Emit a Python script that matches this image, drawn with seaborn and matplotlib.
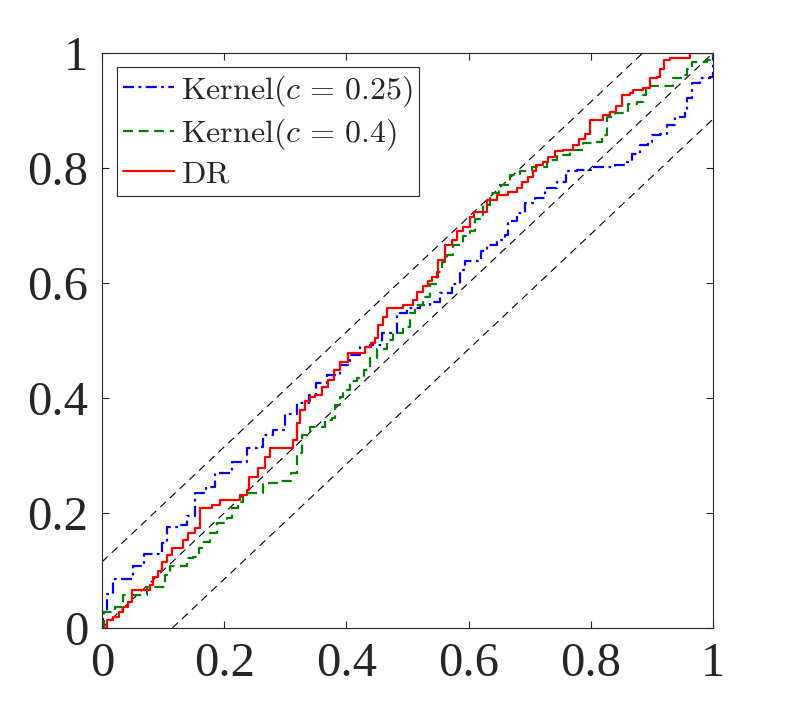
import numpy as np
import pandas as pd
import matplotlib
matplotlib.use("Agg")
import matplotlib.pyplot as plt
import seaborn as sns

kernel25_x = [0, 0.002, 0.008, 0.0185, 0.051, 0.068,
              0.098, 0.106, 0.125, 0.139, 0.152, 0.171,
              0.185, 0.212, 0.237, 0.253, 0.264, 0.28,
              0.30, 0.319, 0.338, 0.351, 0.368, 0.39,
              0.406, 0.422, 0.439, 0.458, 0.482, 0.499,
              0.52, 0.537, 0.553, 0.572, 0.586, 0.594,
              0.621, 0.63, 0.646, 0.66, 0.665, 0.679,
              0.692, 0.709, 0.725, 0.744, 0.76, 0.777,
              0.80, 0.84, 0.859, 0.867, 0.88, 0.894,
              0.90, 0.913, 0.924, 0.938, 0.954, 0.957,
              0.965, 0.979, 0.995, 1.0]
kernel25_y = [0, 0.03, 0.06, 0.086, 0.107, 0.129,
              0.147, 0.176, 0.179, 0.194, 0.234, 0.246,
              0.269, 0.289, 0.3125, 0.315, 0.336, 0.344,
              0.373, 0.391, 0.405, 0.426, 0.44, 0.457,
              0.475, 0.489, 0.492, 0.5125, 0.547, 0.556,
              0.562, 0.567, 0.582, 0.599, 0.623, 0.639,
              0.655, 0.666, 0.675, 0.683, 0.707, 0.721,
              0.739, 0.747, 0.765, 0.776, 0.794, 0.797,
              0.802, 0.805, 0.811, 0.825, 0.84, 0.846,
              0.857, 0.86, 0.875, 0.889, 0.90, 0.921,
              0.947, 0.956, 0.959, 1.0]

kernel4_x = [0, 0.003, 0.021, 0.035, 0.073, 0.103,
             0.111, 0.139, 0.149, 0.158, 0.163, 0.177,
             0.188, 0.204, 0.212, 0.223, 0.231, 0.264,
             0.286, 0.31, 0.319, 0.327, 0.34, 0.365,
             0.376, 0.381, 0.39, 0.395, 0.406, 0.417,
             0.428, 0.439, 0.45, 0.466, 0.477, 0.493,
             0.504, 0.512, 0.526, 0.537, 0.548, 0.556,
             0.564, 0.575, 0.591, 0.602, 0.61, 0.624,
             0.635, 0.649, 0.668, 0.684, 0.703, 0.728,
             0.744, 0.766, 0.788, 0.81, 0.818, 0.826,
             0.84, 0.861, 0.875, 0.886, 0.891, 0.897,
             0.935, 0.951, 0.957, 0.965, 0.99, 1.0]
kernel4_y = [0, 0.028, 0.037, 0.057, 0.072, 0.092,
             0.107, 0.121, 0.124, 0.139, 0.15, 0.165,
             0.182, 0.191, 0.208, 0.22, 0.234, 0.252,
             0.255, 0.269, 0.304, 0.336, 0.35, 0.362,
             0.365, 0.388, 0.402, 0.414, 0.429, 0.434,
             0.449, 0.469, 0.486, 0.501, 0.5125, 0.524,
             0.547, 0.562, 0.576, 0.599, 0.62, 0.637,
             0.649, 0.666, 0.681, 0.69, 0.712, 0.736,
             0.756, 0.77, 0.788, 0.794, 0.802, 0.814,
             0.823, 0.831, 0.843, 0.846, 0.858, 0.889,
             0.895, 0.912, 0.915, 0.927, 0.938, 0.943,
             0.956, 0.962, 0.973, 0.984, 0.988, 1.0]

dr_x = [0, 0.008, 0.0185, 0.027, 0.035, 0.043, 0.049,
        0.079, 0.084, 0.092, 0.098, 0.106, 0.114,
        0.133, 0.141, 0.152, 0.16, 0.18, 0.193,
        0.226, 0.237, 0.24, 0.256, 0.267, 0.275,
        0.313, 0.319, 0.324, 0.332, 0.34, 0.349,
        0.36, 0.37, 0.379, 0.39, 0.403, 0.43,
        0.441, 0.447, 0.452, 0.46, 0.466, 0.493,
        0.509, 0.515, 0.526, 0.534, 0.54, 0.55,
        0.561, 0.572, 0.581, 0.591, 0.602, 0.608,
        0.63, 0.646, 0.665, 0.679, 0.687, 0.698,
        0.706, 0.711, 0.722, 0.73, 0.741, 0.755,
        0.771, 0.78, 0.79, 0.799, 0.82, 0.831,
        0.842, 0.851, 0.864, 0.869, 0.886, 0.897,
        0.908, 0.913, 0.919, 0.93, 0.962, 1.0]
dr_y = [0, 0.014, 0.02, 0.028, 0.037, 0.046, 0.066,
        0.075, 0.089, 0.1, 0.115, 0.127, 0.139,
        0.153, 0.165, 0.174, 0.208, 0.214, 0.223,
        0.231, 0.24, 0.263, 0.278, 0.298, 0.313,
        0.327, 0.356, 0.379, 0.394, 0.402, 0.405,
        0.42, 0.431, 0.449, 0.463, 0.478, 0.489,
        0.495, 0.504, 0.527, 0.541, 0.556, 0.562,
        0.57, 0.585, 0.594, 0.603, 0.611, 0.64,
        0.666, 0.675, 0.69, 0.698, 0.715, 0.724,
        0.744, 0.753, 0.759, 0.765, 0.776, 0.785,
        0.794, 0.805, 0.811, 0.82, 0.829, 0.831,
        0.84, 0.851, 0.86, 0.883, 0.892, 0.898,
        0.907, 0.927, 0.93, 0.936, 0.939, 0.956,
        0.959, 0.973, 0.988, 0.992, 1.0, 1.0]

band = 0.115  # half width of the confidence band

labels = [r"$\mathrm{Kernel}(c\,=\,0.25)$", r"$\mathrm{Kernel}(c\,=\,0.4)$", r"$\mathrm{DR}$"]
ticks = [0, 0.2, 0.4, 0.6, 0.8, 1]
tick_labels = ["0", "0.2", "0.4", "0.6", "0.8", "1"]

sns.set_theme(style="ticks")
plt.rcParams["font.family"] = ["Liberation Serif", "DejaVu Serif"]
plt.rcParams["mathtext.fontset"] = "cm"

fig = plt.figure(figsize=(7.89, 7.05), dpi=100)
ax = fig.add_axes([0.1293, 0.1092, 0.7744, 0.8156])

# reference lines
ax.plot([0, 1], [0, 1], color="black", lw=0.8, ls=(0, (7, 5)))
ax.plot([0, 1], [band, 1 + band], color="black", lw=0.8, ls=(0, (7, 5)))
ax.plot([band, 1 + band], [0, 1], color="black", lw=0.8, ls=(0, (7, 5)))

curves = [
    (kernel25_x, kernel25_y, labels[0], (0, 0, 1), (0, (5, 2, 1.2, 2))),
    (kernel4_x, kernel4_y, labels[1], (0, 0.5, 0), (0, (4.5, 2.5))),
    (dr_x, dr_y, labels[2], (1, 0, 0), "-"),
]

for xs, ys, lab, col, ls in curves:
    df = pd.DataFrame({"x": xs, "y": ys})
    sns.lineplot(
        data=df, x="x", y="y", ax=ax,
        estimator=None, sort=False,
        drawstyle="steps-post",
        color=col, linestyle=ls, lw=1.6,
        label=lab
    )

ax.set_xlim(0, 1)
ax.set_ylim(0, 1)
ax.set_xlabel("")
ax.set_ylabel("")
ax.set_xticks(ticks)
ax.set_yticks(ticks)
ax.set_xticklabels(tick_labels)
ax.set_yticklabels(tick_labels)

for sp in ax.spines.values():
    sp.set_visible(True)
    sp.set_color("0.15")
    sp.set_linewidth(0.8)

ax.tick_params(direction="in", length=5, width=0.8, color="0.15",
               top=True, right=True, labelsize=35, labelcolor="0.15",
               pad=10)

leg = ax.legend(
    loc="upper left", bbox_to_anchor=(0.024, 0.976), borderaxespad=0,
    fontsize=23, frameon=True, fancybox=False, framealpha=1,
    edgecolor="0.15", handlelength=1.6, handletextpad=0.2,
    labelspacing=0.25, borderpad=0.2
)
leg.get_frame().set_linewidth(0.8)

fig.savefig("out.png", dpi=100)
